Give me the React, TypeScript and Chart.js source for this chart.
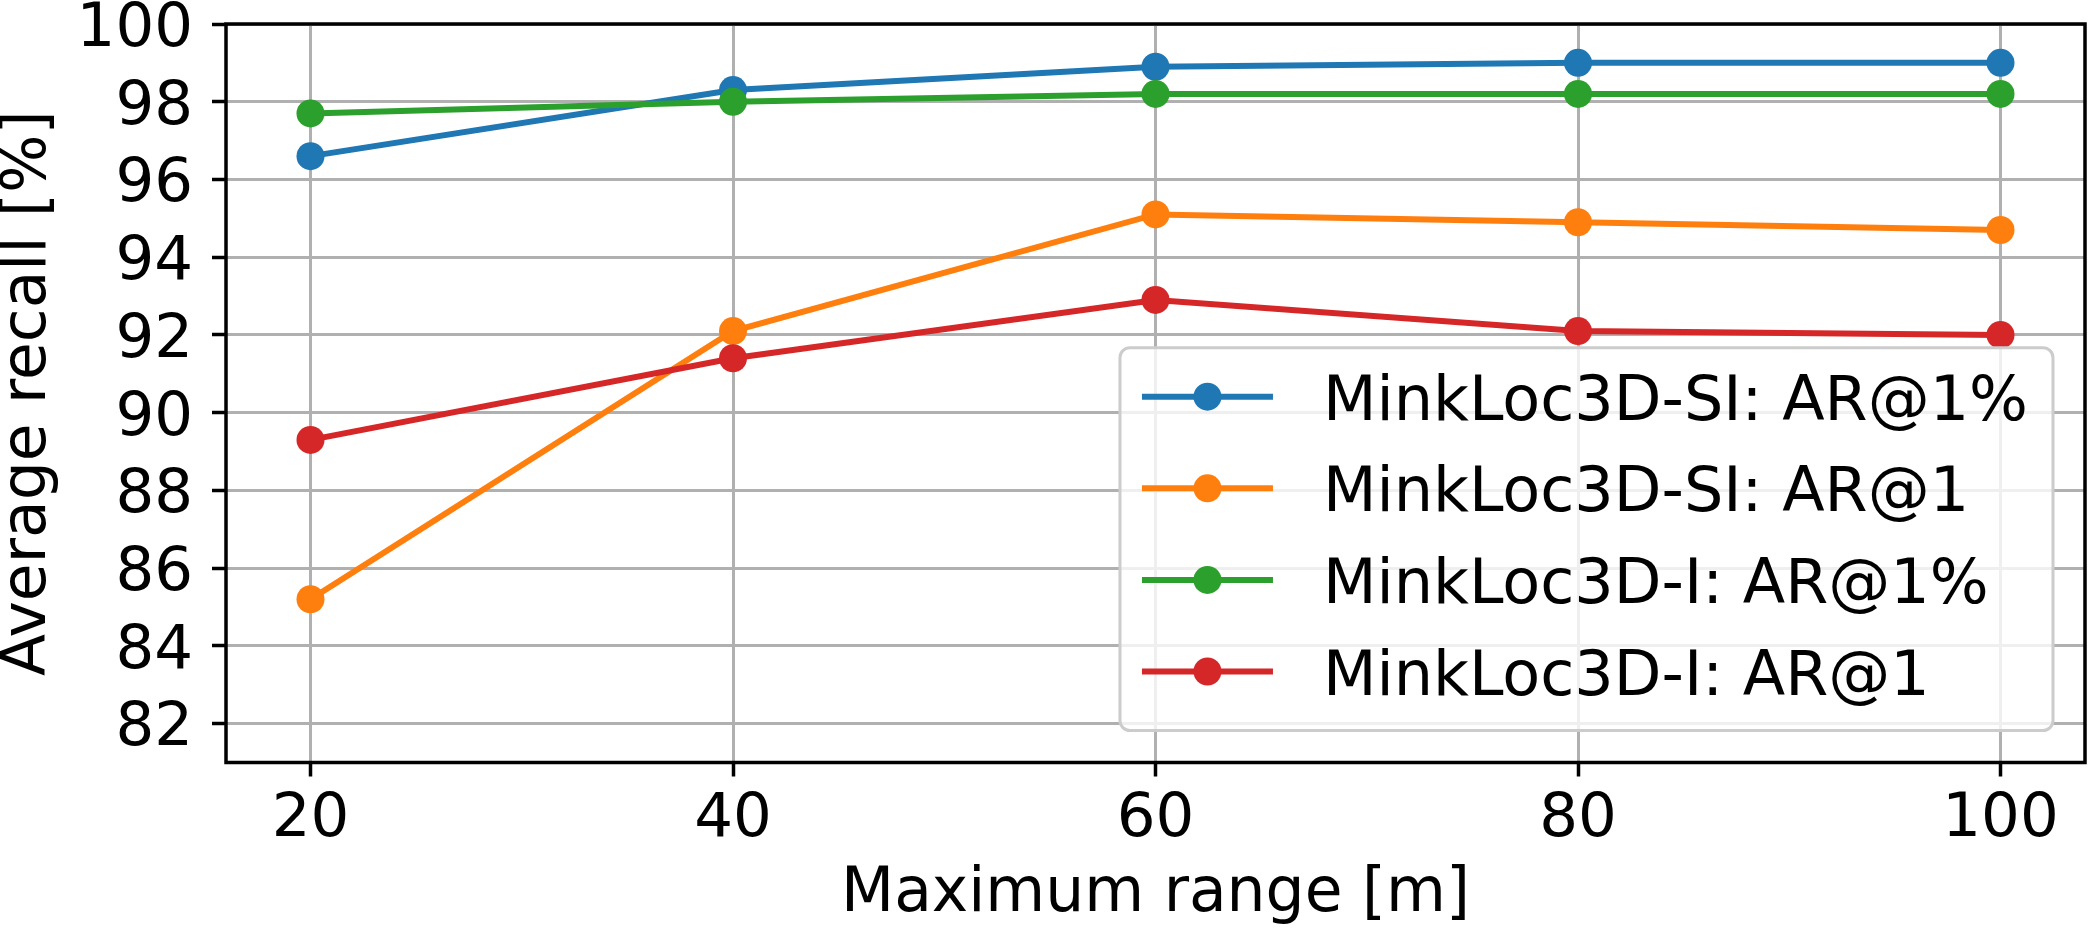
import React, { useEffect, useRef } from 'react';
import { Chart, registerables } from 'chart.js';

Chart.register(...registerables);

const X_VALUES = [20, 40, 60, 80, 100];
const X_TICKS = [20, 40, 60, 80, 100];
const Y_TICKS = [82, 84, 86, 88, 90, 92, 94, 96, 98, 100];

const SI_AR1P = [96.6, 98.3, 98.9, 99.0, 99.0];
const SI_AR1 = [85.2, 92.1, 95.1, 94.9, 94.7];
const I_AR1P = [97.7, 98.0, 98.2, 98.2, 98.2];
const I_AR1 = [89.3, 91.4, 92.9, 92.1, 92.0];

const LABELS = [
  'MinkLoc3D-SI: AR@1%',
  'MinkLoc3D-SI: AR@1',
  'MinkLoc3D-I: AR@1%',
  'MinkLoc3D-I: AR@1',
];
const COLORS = ['#1f77b4', '#ff7f0e', '#2ca02c', '#d62728'];
const SERIES = [SI_AR1P, SI_AR1, I_AR1P, I_AR1];

const FONT = 'DejaVu Sans';

// black frame around the plot area, like matplotlib spines
const framePlugin = {
  id: 'frame',
  afterDatasetsDraw(chart: any) {
    const { ctx, chartArea: a } = chart;
    ctx.save();
    ctx.strokeStyle = '#000';
    ctx.lineWidth = 3.5;
    ctx.strokeRect(a.left, a.top, a.right - a.left, a.bottom - a.top);
    ctx.restore();
  },
};

// legend box in the lower right corner of the plot area
const legendPlugin = {
  id: 'mplLegend',
  afterDraw(chart: any) {
    const { ctx, chartArea: a } = chart;
    const ds = chart.data.datasets;
    ctx.save();
    ctx.font = `62px "${FONT}"`;
    const textW = Math.max(...ds.map((d: any) => ctx.measureText(d.label).width));
    const padL = 22, handle = 131, gap = 50, padR = 25;
    const rowH = 91.6, padT = 49, padB = 59;
    const w = padL + handle + gap + textW + padR;
    const h = padT + rowH * (ds.length - 1) + padB;
    const right = a.right - 32;
    const bottom = a.bottom - 32;
    const left = right - w;
    const top = bottom - h;

    ctx.beginPath();
    ctx.roundRect(left, top, w, h, 10);
    ctx.fillStyle = 'rgba(255,255,255,0.8)';
    ctx.fill();
    ctx.strokeStyle = '#cccccc';
    ctx.lineWidth = 3;
    ctx.stroke();

    ds.forEach((d: any, i: number) => {
      const y = top + padT + i * rowH;
      const x0 = left + padL;
      ctx.strokeStyle = d.borderColor;
      ctx.lineWidth = 6;
      ctx.beginPath();
      ctx.moveTo(x0, y);
      ctx.lineTo(x0 + handle, y);
      ctx.stroke();
      ctx.fillStyle = d.borderColor;
      ctx.beginPath();
      ctx.arc(x0 + handle / 2, y, 14, 0, Math.PI * 2);
      ctx.fill();
      ctx.fillStyle = '#000';
      ctx.textBaseline = 'alphabetic';
      ctx.textAlign = 'left';
      ctx.fillText(d.label, x0 + handle + gap, y + 23);
    });
    ctx.restore();
  },
};

export default function App() {
  const canvasRef = useRef<HTMLCanvasElement | null>(null);
  const chartRef = useRef<Chart | null>(null);

  useEffect(() => {
    if (chartRef.current) {
      chartRef.current.destroy();
    }
    if (!canvasRef.current) return;

    Chart.defaults.font.family = FONT;
    Chart.defaults.color = '#000';

    chartRef.current = new Chart(canvasRef.current, {
      type: 'line',
      data: {
        datasets: SERIES.map((vals, i) => ({
          label: LABELS[i],
          data: vals.map((v, j) => ({ x: X_VALUES[j], y: v })),
          borderColor: COLORS[i],
          backgroundColor: COLORS[i],
          pointBackgroundColor: COLORS[i],
          pointBorderWidth: 0,
          pointRadius: 14,
          borderWidth: 6,
          tension: 0,
          order: SERIES.length - i,
        })),
      },
      options: {
        responsive: false,
        animation: false,
        layout: { autoPadding: false, padding: { left: 0, top: 24, right: 4, bottom: 0 } },
        plugins: {
          legend: { display: false },
          tooltip: { enabled: false },
        },
        scales: {
          x: {
            type: 'linear',
            min: 16,
            max: 104,
            afterBuildTicks: (scale: any) => {
              scale.ticks = X_TICKS.map((v) => ({ value: v }));
            },
            afterFit: (scale: any) => {
              scale.height = 165.5;
              scale.paddingLeft = 0;
              scale.paddingRight = 0;
            },
            grid: {
              color: '#b0b0b0',
              lineWidth: 3,
              tickColor: '#000',
              tickWidth: 3.5,
              tickLength: 14,
            },
            border: { display: false },
            ticks: {
              font: { size: 61, lineHeight: 1.2 },
              padding: 7,
              maxRotation: 0,
              autoSkip: false,
            },
            title: {
              display: true,
              text: 'Maximum range [m]',
              font: { size: 61.5, lineHeight: 1 },
              padding: { top: 0, bottom: 2 },
            },
          },
          y: {
            type: 'linear',
            min: 81,
            max: 100,
            afterBuildTicks: (scale: any) => {
              scale.ticks = Y_TICKS.map((v) => ({ value: v }));
            },
            afterFit: (scale: any) => {
              scale.width = 226;
              scale.paddingTop = 0;
              scale.paddingBottom = 0;
            },
            grid: {
              color: '#b0b0b0',
              lineWidth: 3,
              tickColor: '#000',
              tickWidth: 3.5,
              tickLength: 14,
            },
            border: { display: false },
            ticks: {
              font: { size: 61 },
              padding: 19,
              labelOffset: 6,
              autoSkip: false,
            },
            title: {
              display: true,
              text: 'Average recall [%]',
              font: { size: 61.5, lineHeight: 1 },
              padding: { top: -2, bottom: 0 },
            },
          },
        },
      },
      plugins: [framePlugin, legendPlugin],
    });

    return () => {
      if (chartRef.current) {
        chartRef.current.destroy();
        chartRef.current = null;
      }
    };
  }, []);

  return (
    <div style={{ position: 'fixed', left: 0, top: 0, width: 2089, height: 928, background: '#fff' }}>
      <canvas ref={canvasRef} width={2089} height={928} />
    </div>
  );
}
